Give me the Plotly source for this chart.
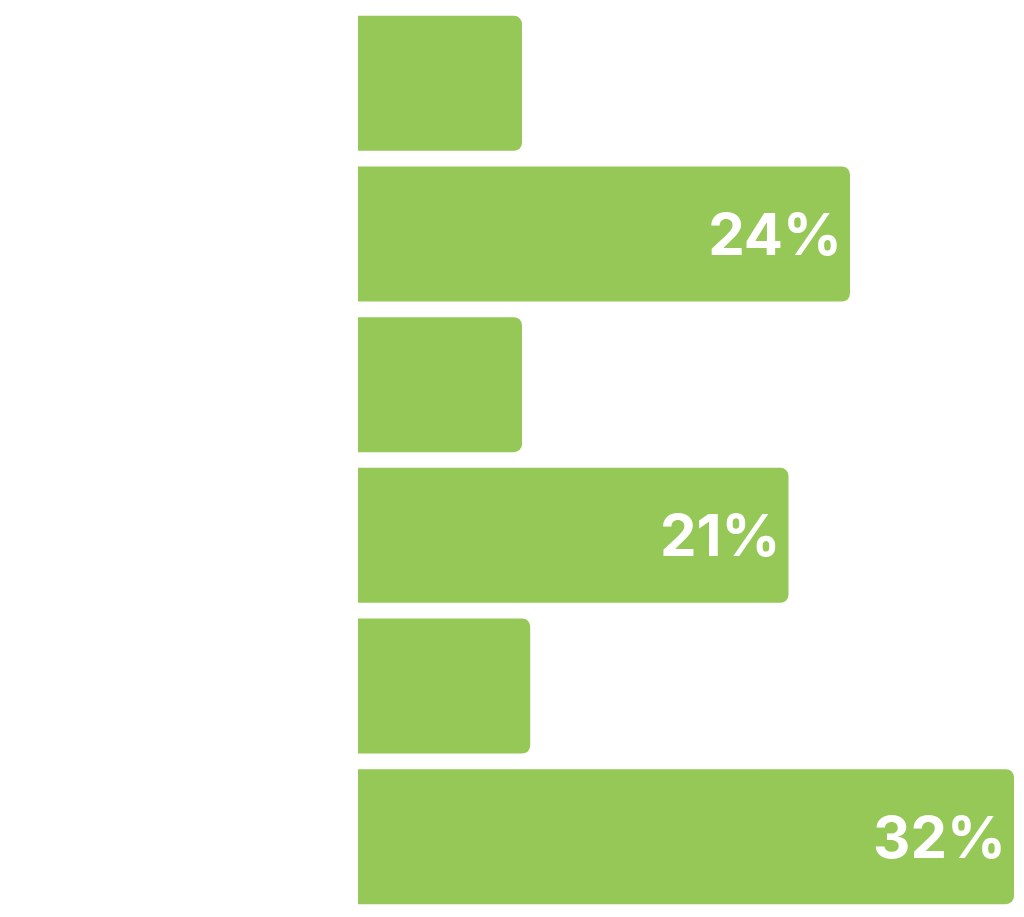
import plotly.graph_objects as go

categories = ["Item 1", "Item 2", "Item 3", "Item 4", "Item 5", "Item 6"]
values = [8, 24, 8, 21, 8.4, 32]
labels = ["", "24%", "", "21%", "", "32%"]

fig = go.Figure(
    go.Bar(
        x=values,
        y=categories,
        orientation="h",
        text=labels,
        textposition="inside",
        insidetextanchor="end",
        textfont=dict(family="Inter", size=58, color="white", weight="bold"),
        marker=dict(color="#95C857", line=dict(width=0), cornerradius=8),
        hoverinfo="skip",
    )
)

fig.update_layout(
    width=1016,
    height=909,
    margin=dict(l=350, r=10, t=0, b=5),
    paper_bgcolor="white",
    plot_bgcolor="white",
    bargap=0.104,
    showlegend=False,
    uniformtext=dict(mode="show", minsize=10),
)
fig.update_xaxes(range=[0, 32], visible=False, fixedrange=True)
fig.update_yaxes(autorange="reversed", showticklabels=False, showgrid=False,
                 zeroline=False, showline=False, ticks="", fixedrange=True)

fig.write_html("out.html", config={"displayModeBar": False})
